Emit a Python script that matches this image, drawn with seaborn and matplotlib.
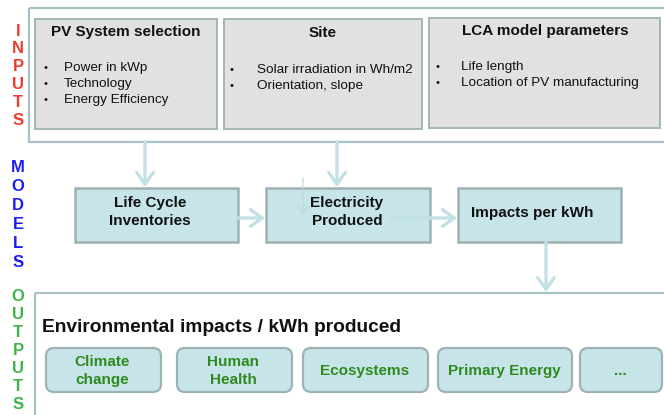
import matplotlib
matplotlib.use("Agg")
import matplotlib.pyplot as plt
from matplotlib.patches import FancyBboxPatch, Rectangle
import seaborn as sns

# ---- content ----
side_labels = ["INPUTS", "MODELS", "OUTPUTS"]
side_colors = ["#f03c2a", "#1c1cf0", "#3db54a"]
input_titles = ["PV System selection", "Site", "LCA model parameters"]
input_items = [
    ["Power in kWp", "Technology", "Energy Efficiency"],
    ["Solar irradiation in Wh/m2", "Orientation, slope"],
    ["Life length", "Location of PV manufacturing"],
]
model_labels = ["Life Cycle\nInventories", "Electricity\nProduced", "Impacts per kWh"]
output_title = "Environmental impacts / kWh produced"
output_labels = ["Climate\nchange", "Human\nHealth", "Ecosystems", "Primary Energy", "..."]

sns.set_theme(style="white")
plt.rcParams["font.family"] = ["Liberation Sans", "DejaVu Sans"]

fig = plt.figure(figsize=(6.64, 4.15), dpi=100)
ax = fig.add_axes([0, 0, 1, 1])
ax.set_xlim(0, 664)
ax.set_ylim(415, 0)
ax.axis("off")

frame_c = "#a9c1c4"
grey_fill = "#e1e1e1"
grey_edge = "#a3b5b6"
teal_fill = "#c7e5e9"
teal_edge = "#9db2b4"
arrow_c = "#c2e1e5"
green_txt = "#2e8a1f"

# side letters
side_y = [(31, 17.8), (167, 19.0), (296, 18.0)]
for lab, col, (y0, dy) in zip(side_labels, side_colors, side_y):
    for i, ch in enumerate(lab):
        ax.text(18, y0 + i * dy, ch, color=col, fontsize=12, fontweight="bold",
                ha="center", va="center")

# outer frames
ax.add_patch(Rectangle((29, 8), 700, 134, fill=False, ec=frame_c, lw=1.6))
ax.add_patch(Rectangle((35, 293), 700, 200, fill=False, ec=frame_c, lw=1.6))

# input boxes
in_boxes = [(35, 19, 182, 110), (224, 19, 198, 110), (429, 18, 231, 110)]
title_pos = [(126, 32), (323, 33), (545, 31)]
bullet_pos = [(45, 64, 68), (231, 257, 70), (437, 461, 67)]
for (x, y, w, h), t, (tx, ty), items, (bx, ix, iy) in zip(
        in_boxes, input_titles, title_pos, input_items, bullet_pos):
    ax.add_patch(Rectangle((x, y), w, h, fc=grey_fill, ec=grey_edge, lw=1.4))
    ax.text(tx, ty, t, fontsize=11, fontweight="bold", ha="center", va="center",
            color="#111111")
    for k, it in enumerate(items):
        yy = iy + k * 16
        ax.text(bx, yy, "\u2022", fontsize=8, ha="center", va="center", color="#111111")
        ax.text(ix, yy, it, fontsize=9.7, ha="left", va="center", color="#111111")

# arrows
def arrow(x0, y0, x1, y1, lw=2.4, col=arrow_c, hw=5, hl=7):
    ax.annotate("", xy=(x1, y1), xytext=(x0, y0),
                arrowprops=dict(arrowstyle=f"->,head_width={hw/10:.2f},head_length={hl/10:.2f}",
                                color=col, lw=lw, shrinkA=0, shrinkB=0))

arrow(145, 142, 145, 187)
arrow(337, 142, 337, 187)
arrow(546, 242, 546, 292)

# model boxes
m_boxes = [(75, 188, 163, 54), (266, 188, 164, 54), (458, 188, 163, 54)]
m_text = [(150, 212), (347, 212), (532, 213)]
for (x, y, w, h), lab, (tx, ty) in zip(m_boxes, model_labels, m_text):
    ax.add_patch(Rectangle((x, y), w, h, fc=teal_fill, ec=teal_edge, lw=1.8, zorder=2))
    ax.text(tx, ty, lab, fontsize=11, fontweight="bold", ha="center", va="center",
            linespacing=1.4, color="#111111", zorder=4)

arrow(238, 218, 265, 218)
ax.annotate("", xy=(457, 218), xytext=(390, 218),
            arrowprops=dict(arrowstyle="->,head_width=0.5,head_length=0.7",
                            color=arrow_c, lw=2.4, shrinkA=0, shrinkB=0), zorder=3)
ax.annotate("", xy=(303, 215), xytext=(303, 178),
            arrowprops=dict(arrowstyle="->,head_width=0.3,head_length=0.5",
                            color="#b9d9dd", lw=0.8, shrinkA=0, shrinkB=0), zorder=3)

# outputs
ax.text(42, 327, output_title, fontsize=13.8, fontweight="bold", ha="left", va="center",
        color="#111111")
o_boxes = [(46, 348, 115, 44), (177, 348, 115, 44), (303, 348, 125, 44),
           (438, 348, 134, 44), (580, 348, 82, 44)]
for (x, y, w, h), lab in zip(o_boxes, output_labels):
    ax.add_patch(FancyBboxPatch((x, y), w, h, boxstyle="round,pad=0,rounding_size=8",
                                fc=teal_fill, ec=teal_edge, lw=1.6))
    ax.text(x + w / 2 - 1, y + h / 2 + 1, lab, fontsize=11, fontweight="bold",
            ha="center", va="center", linespacing=1.35, color=green_txt)

fig.savefig("out.png", dpi=100)
